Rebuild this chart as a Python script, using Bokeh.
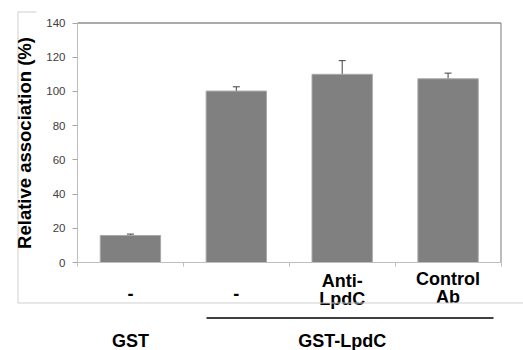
from bokeh.plotting import figure
from bokeh.models import Range1d, FixedTicker, Whisker, TeeHead, ColumnDataSource, LinearAxis
from bokeh.core.properties import value
from bokeh.embed import file_html
from bokeh.resources import INLINE

# ---- data ----
categories = ["-", "-", "Anti-\nLpdC", "Control\nAb"]
values = [15.8, 100.2, 110.0, 107.4]
errors = [0.8, 2.5, 8.0, 3.3]
groups = ["GST", "GST-LpdC"]
group_members = [[0], [1, 2, 3]]
y_ticks = [0, 20, 40, 60, 80, 100, 120, 140]
y_title = "Relative association (%)"

FONT = "Liberation Sans"
W, H = 523, 350
NC = len(categories)
YMAX = 140
# plot area in page pixels
PX0, PX1 = 77.0, 500.5
PY0, PY1 = 262.0, 22.5
TXT_SHIFT = -5.0  # compensates text baseline placement


def dx(px):
    return (px - PX0) / (PX1 - PX0) * NC


def dy(py):
    return (PY0 - py) / (PY0 - PY1) * YMAX


p = figure(width=W, height=H, output_backend="svg", toolbar_location=None, title=None,
           x_range=Range1d(dx(0), dx(W)), y_range=Range1d(dy(H), dy(0)),
           x_axis_type=None, y_axis_type=None, min_border=0)
p.outline_line_color = None
p.grid.visible = False
p.background_fill_color = "white"
p.border_fill_color = "white"

xs = [i + 0.5 for i in range(NC)]
src = ColumnDataSource(dict(x=xs, top=values, upper=[v + e for v, e in zip(values, errors)]))

# axes (at fixed positions inside the full-canvas frame)
yax = LinearAxis(fixed_location=0, bounds=(0, YMAX), ticker=FixedTicker(ticks=y_ticks))
yax.axis_line_color = "#bfbfbf"
yax.major_tick_line_color = "#a6a6a6"
yax.major_tick_out = 5
yax.major_tick_in = 0
yax.minor_tick_line_color = None
yax.major_label_text_font = FONT
yax.major_label_text_font_size = "11.5px"
yax.major_label_text_color = "#404040"
yax.major_label_standoff = 7
yax.axis_label = y_title
yax.axis_label_text_font = FONT
yax.axis_label_text_font_style = "bold"
yax.axis_label_text_font_size = "18.5px"
yax.axis_label_text_color = "black"
yax.axis_label_standoff = 8
p.add_layout(yax, "left")

boundaries = list(range(NC + 1))
xax = LinearAxis(fixed_location=0, bounds=(0, NC), ticker=FixedTicker(ticks=boundaries))
xax.axis_line_color = "#bfbfbf"
xax.major_tick_line_color = "#bfbfbf"
xax.major_tick_out = 4
xax.major_tick_in = 0
xax.minor_tick_line_color = None
xax.major_label_overrides = {b: "" for b in boundaries}
p.add_layout(xax, "below")

# plot-area frame: top and right edges
p.segment(x0=[0, NC], y0=[YMAX, 0], x1=[NC, NC], y1=[YMAX, YMAX],
          line_color=["#595959", "#7a7a7a"], line_width=1)

# bars and error bars
p.vbar(x="x", top="top", width=0.57, source=src, fill_color="#808080", line_color="#a8a8a8", line_width=1)
p.add_layout(Whisker(source=src, base="x", lower="top", upper="upper", dimension="height",
                     line_color="#404040", line_width=1,
                     upper_head=TeeHead(size=7, line_color="#404040", line_width=1), lower_head=None))

# category labels (split into lines)
line_h = 18
tx, ty, tt = [], [], []
for x, cat in zip(xs, categories):
    lines = cat.split("\n")
    if len(lines) == 1:
        base = 297.5
    elif cat.startswith("Control"):
        base = 283.0
    else:
        base = 285.0
    for k, t in enumerate(lines):
        tx.append(x)
        ty.append(dy(base + k * line_h + TXT_SHIFT))
        tt.append(t)
p.text(x=tx, y=ty, text=tt, text_align="center", text_baseline="alphabetic",
       text_font=value(FONT), text_font_style="bold", text_font_size="18px", text_color="black")

# group labels
gx = [sum(xs[i] for i in mem) / len(mem) for mem in group_members]
p.text(x=gx, y=[dy(345.5 + TXT_SHIFT)] * len(groups), text=groups, text_align="center",
       text_baseline="alphabetic", text_font=value(FONT), text_font_style="bold",
       text_font_size="18px", text_color="black")

# group underline
p.segment(x0=[dx(206)], y0=[dy(317.5)], x1=[dx(493)], y1=[dy(317.5)], line_color="black", line_width=1.3)

# outer chart-area border fragments
p.segment(x0=[dx(17.5), dx(17.5), dx(17.5)], y0=[dy(11.5), dy(302.5), dy(11.5)],
          x1=[dx(17.5), dx(W), dx(36)], y1=[dy(302.5), dy(302.5), dy(11.5)],
          line_color="#cfcfcf", line_width=1)

open("out.html", "w").write(file_html(p, INLINE))
